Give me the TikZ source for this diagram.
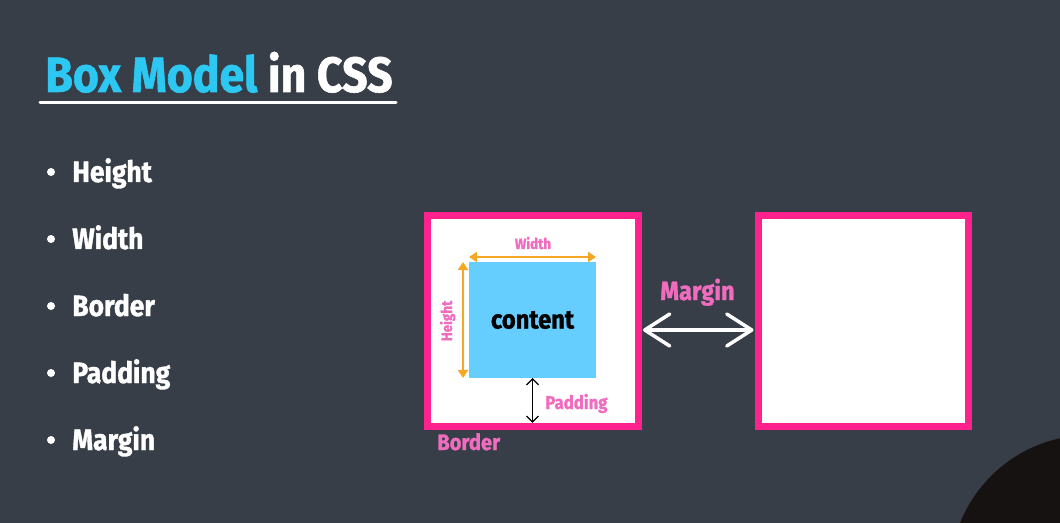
\documentclass[tikz,border=0pt]{standalone}
\usepackage{fontspec}
\setmainfont{Fira Sans}[FakeStretch=0.9, BoldFeatures={FakeBold=1.2}]
\usetikzlibrary{arrows.meta}

\definecolor{slidebg}{RGB}{56,62,72}
\definecolor{blobdark}{RGB}{22,18,17}
\definecolor{titlecyan}{RGB}{44,200,242}
\definecolor{boxpink}{RGB}{255,34,140}
\definecolor{lblpink}{RGB}{240,108,190}
\definecolor{contentblue}{RGB}{102,206,255}
\definecolor{arrowgold}{RGB}{245,168,36}

\newcommand{\fsz}[1]{\bfseries\fontsize{#1}{#1}\selectfont}

\begin{document}
\begin{tikzpicture}[x=0.02cm, y=-0.02cm,
    pinkbox/.style={draw=boxpink, line width=0.14cm, fill=white, inner sep=0, outer sep=0,
                    minimum width=4.22cm, minimum height=4.22cm},
    contentbox/.style={fill=contentblue, inner sep=0, outer sep=0,
                    minimum width=2.54cm, minimum height=2.32cm, font=\fsz{15}},
    lbl/.style={text=lblpink, inner sep=0},
    bullettext/.style={text=white, anchor=base west, inner sep=0, font=\fsz{16.7}},
    sizearrow/.style={draw=arrowgold, line width=0.04cm,
                    {Triangle[length=0.16cm,width=0.2cm]}-{Triangle[length=0.16cm,width=0.2cm]}},
    padarrow/.style={draw=black, line width=0.025cm,
                    {Straight Barb[length=0.12cm,width=0.24cm]}-{Straight Barb[length=0.12cm,width=0.24cm]}},
    marginarrow/.style={draw=white, line width=0.07cm, line cap=round,
                    {Straight Barb[length=0.5cm,width=0.64cm,round]}-{Straight Barb[length=0.5cm,width=0.64cm,round]}}
  ]

        %Slide background
        \fill [slidebg]  (0,0) rectangle (1060,523);
        \begin{scope}
          \clip (0,0) rectangle (1060,523);
          \fill [blobdark] (1090,575) circle [radius=2.8cm];
        \end{scope}

        %Title
        \node [anchor=base west, inner sep=0, text=white, font=\fsz{28.2}] (title) at (45,92)
              {\textcolor{titlecyan}{Box Model} in CSS};
        \draw [white, line width=0.06cm, line cap=round] (40,103) -- (396,103);

        %Bullet list
        \foreach \entry [count=\i] in {Height,Width,Border,Padding,Margin} {
          \fill [white] (51,{172+67*(\i-1)}) circle [radius=0.08cm];
          \node [bullettext] (bullet\i) at (72,{182+67*(\i-1)}) {\entry};
        }

        %Boxes
        \node [pinkbox]    (boxL)    at (533,321)   {};
        \node [pinkbox]    (boxR)    at (863.5,321) {};
        \node [contentbox] (content) at (532.5,320) {content};

        %Content size arrows
        \draw [sizearrow]  ([yshift=0.1cm]content.north west)   -- ([yshift=0.1cm]content.north east);
        \draw [sizearrow]  ([xshift=-0.12cm]content.north west) -- ([xshift=-0.12cm]content.south west);
        \draw [padarrow, shorten >=0.07cm] (content.south) -- (content.south |- boxL.south);

        %Margin arrow
        \draw [marginarrow, shorten <=0.09cm, shorten >=0.09cm]
              ([yshift=-0.18cm]boxL.east) -- ([yshift=-0.18cm]boxR.west);

        %Labels
        \node [lbl, anchor=base, font=\fsz{8.5}]            (widthlbl)   at (533,249)   {Width};
        \node [lbl, anchor=base, rotate=90, font=\fsz{8.5}] (heightlbl)  at (452,321)   {Height};
        \node [lbl, anchor=base west, font=\fsz{10.6}]      (paddinglbl) at (545,409)   {Padding};
        \node [lbl, anchor=base west, font=\fsz{12.7}]      (borderlbl)  at (437,450)   {Border};
        \node [lbl, anchor=base, font=\fsz{15}]             (marginlbl)  at (697.5,300) {Margin};

\end{tikzpicture}
\end{document}
